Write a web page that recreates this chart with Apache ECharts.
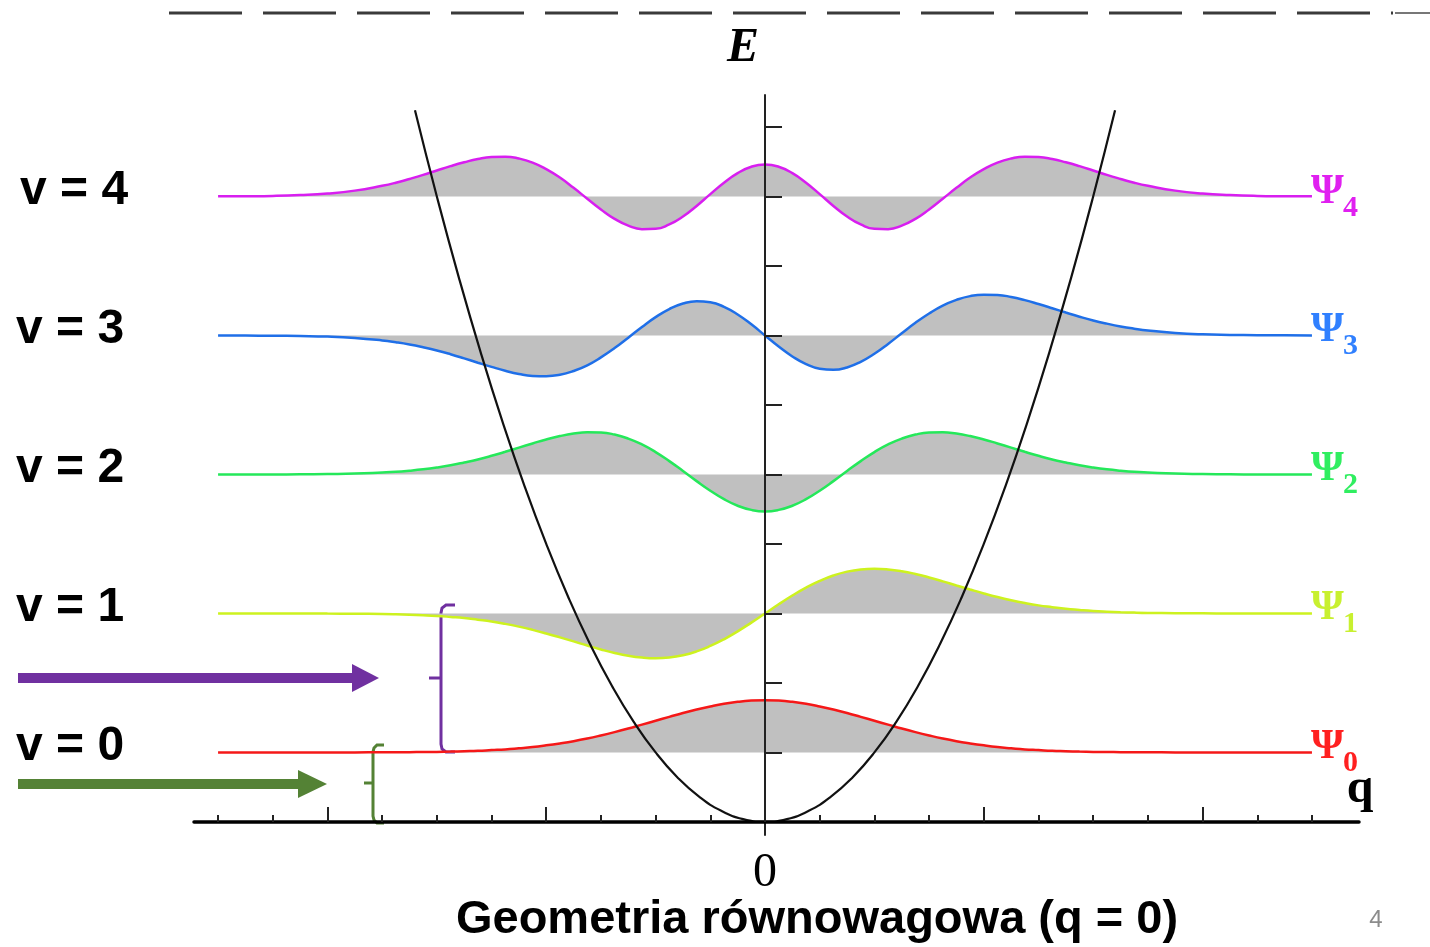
<!DOCTYPE html>
<html>
<head>
<meta charset="utf-8">
<script src="https://cdn.jsdelivr.net/npm/echarts@6/dist/echarts.min.js"></script>
<style>
html,body{margin:0;padding:0;background:#fff;}
#chart{width:1430px;height:947px;}
</style>
</head>
<body>
<div id="chart"></div>
<script>
// ---- data ----
const qGrid = [-5,-4.75,-4.5,-4.25,-4,-3.75,-3.5,-3.375,-3.25,-3.125,-3,-2.875,-2.75,-2.625,-2.5,-2.375,-2.25,-2.125,-2,-1.875,-1.75,-1.625,-1.5,-1.375,-1.25,-1.125,-1,-0.875,-0.75,-0.625,-0.5,-0.375,-0.25,-0.125,0,0.125,0.25,0.375,0.5,0.625,0.75,0.875,1,1.125,1.25,1.375,1.5,1.625,1.75,1.875,2,2.125,2.25,2.375,2.5,2.625,2.75,2.875,3,3.125,3.25,3.375,3.5,3.75,4,4.25,4.5,4.75,5];
const levels = [0.5, 1.5, 2.5, 3.5, 4.5];           // energy of v = 0..4
const levelNames = ['v = 0','v = 1','v = 2','v = 3','v = 4'];
const psi0 = [0,0,0,0,0,0,0.001,0.001,0.002,0.003,0.004,0.006,0.009,0.012,0.017,0.022,0.030,0.039,0.051,0.065,0.081,0.100,0.122,0.146,0.172,0.200,0.228,0.256,0.284,0.309,0.331,0.350,0.364,0.373,0.376,0.373,0.364,0.350,0.331,0.309,0.284,0.256,0.228,0.200,0.172,0.146,0.122,0.100,0.081,0.065,0.051,0.039,0.030,0.022,0.017,0.012,0.009,0.006,0.004,0.003,0.002,0.001,0.001,0,0,0,0,0,0];
const psi1 = [0,0,0,0,-0.001,-0.002,-0.004,-0.006,-0.009,-0.013,-0.018,-0.025,-0.033,-0.045,-0.058,-0.075,-0.095,-0.118,-0.144,-0.172,-0.201,-0.231,-0.259,-0.284,-0.304,-0.317,-0.322,-0.317,-0.301,-0.273,-0.234,-0.186,-0.129,-0.066,0,0.066,0.129,0.186,0.234,0.273,0.301,0.317,0.322,0.317,0.304,0.284,0.259,0.231,0.201,0.172,0.144,0.118,0.095,0.075,0.058,0.045,0.033,0.025,0.018,0.013,0.009,0.006,0.004,0.002,0.001,0,0,0,0];
const psi2 = [0,0,0,0.001,0.003,0.006,0.014,0.019,0.027,0.037,0.050,0.066,0.086,0.108,0.134,0.163,0.193,0.223,0.252,0.276,0.294,0.304,0.302,0.287,0.258,0.216,0.161,0.096,0.025,-0.048,-0.117,-0.178,-0.225,-0.255,-0.266,-0.255,-0.225,-0.178,-0.117,-0.048,0.025,0.096,0.161,0.216,0.258,0.287,0.302,0.304,0.294,0.276,0.252,0.223,0.193,0.163,0.134,0.108,0.086,0.066,0.050,0.037,0.027,0.019,0.014,0.006,0.003,0.001,0,0,0];
const psi3 = [0,-0.001,-0.002,-0.004,-0.008,-0.018,-0.036,-0.049,-0.065,-0.085,-0.108,-0.135,-0.165,-0.196,-0.226,-0.254,-0.277,-0.291,-0.293,-0.283,-0.256,-0.215,-0.158,-0.091,-0.016,0.061,0.132,0.190,0.230,0.247,0.239,0.206,0.151,0.080,0,-0.080,-0.151,-0.206,-0.239,-0.247,-0.230,-0.190,-0.132,-0.061,0.016,0.091,0.158,0.215,0.256,0.283,0.293,0.291,0.277,0.254,0.226,0.196,0.165,0.135,0.108,0.085,0.065,0.049,0.036,0.018,0.008,0.004,0.002,0.001,0];
const psi4 = [0.001,0.002,0.004,0.010,0.021,0.042,0.077,0.099,0.126,0.155,0.187,0.218,0.246,0.270,0.284,0.286,0.273,0.244,0.197,0.136,0.062,-0.016,-0.093,-0.161,-0.210,-0.235,-0.233,-0.201,-0.144,-0.068,0.017,0.099,0.168,0.214,0.230,0.214,0.168,0.099,0.017,-0.068,-0.144,-0.201,-0.233,-0.235,-0.210,-0.161,-0.093,-0.016,0.062,0.136,0.197,0.244,0.273,0.286,0.284,0.270,0.246,0.218,0.187,0.155,0.126,0.099,0.077,0.042,0.021,0.010,0.004,0.002,0.001];
const qPot = [-3.2,-3.0,-2.8,-2.6,-2.4,-2.2,-2.0,-1.8,-1.6,-1.4,-1.2,-1.0,-0.8,-0.6,-0.4,-0.2,0,0.2,0.4,0.6,0.8,1.0,1.2,1.4,1.6,1.8,2.0,2.2,2.4,2.6,2.8,3.0,3.2];
const potential = [5.12,4.5,3.92,3.38,2.88,2.42,2.0,1.62,1.28,0.98,0.72,0.5,0.32,0.18,0.08,0.02,0,0.02,0.08,0.18,0.32,0.5,0.72,0.98,1.28,1.62,2.0,2.42,2.88,3.38,3.92,4.5,5.12];
const xMajorTicks = [-4,-2,0,2,4];
const xMinorTicks = [-5,-4.5,-3.5,-3,-2.5,-1.5,-1,-0.5,0.5,1,1.5,2.5,3,3.5,4.5,5];
const yTicks = [0.5,1,1.5,2,2.5,3,3.5,4,4.5,5];
const xLabels = [0];
const psiLabels = ['0','1','2','3','4'];

const waves = [psi0, psi1, psi2, psi3, psi4];
const lineColors = ['#f51818','#cdf21f','#25e85a','#1f6fe8','#d81ef0'];
const labelColors = ['#ff2020','#c8f030','#30ee60','#3080ff','#e020f0'];

const chart = echarts.init(document.getElementById('chart'));

const series = waves.map((w, v) => ({
  type: 'line',
  data: qGrid.map((q, i) => [q, levels[v] + w[i]]),
  smooth: 0.5,
  symbol: 'none',
  z: 2,
  lineStyle: { color: lineColors[v], width: 2.5 },
  areaStyle: { origin: levels[v], color: '#c0c0c0', opacity: 1 }
}));
series.push({
  type: 'line',
  data: qPot.map((q, i) => [q, potential[i]]),
  smooth: true,
  symbol: 'none',
  z: 4,
  lineStyle: { color: '#111', width: 2.2 }
});

const graphic = [];
// top dashed line
graphic.push({ type:'line', shape:{x1:169,y1:13,x2:1393,y2:13}, style:{stroke:'#3a3a3a', lineWidth:3, lineDash:[73,21]} });
graphic.push({ type:'line', shape:{x1:1395,y1:13,x2:1430,y2:13}, style:{stroke:'#777', lineWidth:2} });
// E
graphic.push({ type:'text', x:743, y:49, style:{ text:'E', font:'italic bold 48px "Liberation Serif"', fill:'#000', align:'center', verticalAlign:'middle' } });
// v labels
const vLabelY = [747, 608, 469, 330, 191];
const vLabelX = [16, 16, 16, 16, 20];
levelNames.forEach((t, v) => {
  graphic.push({ type:'text', x:vLabelX[v], y:vLabelY[v], style:{ text:t, font:'bold 48px "Liberation Sans"', fill:'#000', align:'left', verticalAlign:'middle' } });
});
// Psi labels
const levelPix = [752, 613, 474, 335, 197];
psiLabels.forEach((s, v) => {
  graphic.push({ type:'text', x:1311, y:levelPix[v]-5, style:{ text:'Ψ', font:'bold 42px "Liberation Serif"', fill:labelColors[v], align:'left', verticalAlign:'middle' } });
  graphic.push({ type:'text', x:1343, y:levelPix[v]+11, style:{ text:s, font:'bold 30px "Liberation Serif"', fill:labelColors[v], align:'left', verticalAlign:'middle' } });
});
// q label
graphic.push({ type:'text', x:1360, y:790, style:{ text:'q', font:'bold 48px "Liberation Serif"', fill:'#000', align:'center', verticalAlign:'middle' } });
// bottom title
graphic.push({ type:'text', x:817, y:920, style:{ text:'Geometria równowagowa (q = 0)', font:'bold 47px "Liberation Sans"', fill:'#000', align:'center', verticalAlign:'middle' } });
// slide number
graphic.push({ type:'text', x:1376, y:920, style:{ text:'4', font:'24px "Liberation Sans"', fill:'#8c8c8c', align:'center', verticalAlign:'middle' } });
// arrows
graphic.push({ type:'rect', shape:{x:18,y:673,width:336,height:10}, style:{fill:'#7030a0'} });
graphic.push({ type:'polygon', shape:{points:[[352,664],[379,678],[352,692]]}, style:{fill:'#7030a0'} });
graphic.push({ type:'rect', shape:{x:18,y:779,width:282,height:10}, style:{fill:'#548235'} });
graphic.push({ type:'polygon', shape:{points:[[298,770],[327,784],[298,798]]}, style:{fill:'#548235'} });
// brackets
graphic.push({ type:'polyline', shape:{points:[[455,605],[446,605],[442,608],[441,613],[441,744],[442,749],[446,752],[455,752]]}, style:{stroke:'#7030a0', lineWidth:3, fill:null} });
graphic.push({ type:'line', shape:{x1:429,y1:678,x2:441,y2:678}, style:{stroke:'#7030a0', lineWidth:3} });
graphic.push({ type:'polyline', shape:{points:[[384,745],[377,745],[374,748],[373,752],[373,816],[374,820],[377,823],[384,823]]}, style:{stroke:'#548235', lineWidth:3, fill:null} });
graphic.push({ type:'line', shape:{x1:364,y1:783,x2:373,y2:783}, style:{stroke:'#548235', lineWidth:3} });

const option = {
  animation: false,
  backgroundColor: '#fff',
  grid: { left: 194, right: 71, top: 95, bottom: 112, containLabel: false, outerBoundsMode: 'none' },
  xAxis: [
    {
      type: 'value', min: -5.22, max: 5.43, position: 'bottom', z: 5,
      axisLine: { show: true, onZero: true, lineStyle: { color: '#000', width: 3.5 } },
      axisTick: { show: true, inside: true, length: 15, customValues: xMajorTicks, lineStyle: { color: '#222', width: 2 } },
      axisLabel: { show: true, customValues: xLabels, margin: 14, color: '#000', fontFamily: 'Liberation Serif', fontSize: 48, formatter: (v) => String(v) },
      splitLine: { show: false }
    },
    {
      type: 'value', min: -5.22, max: 5.43, position: 'bottom', offset: -13, z: 5,
      axisLine: { show: false, onZero: false },
      axisTick: { show: true, inside: true, length: 7, customValues: xMinorTicks, lineStyle: { color: '#222', width: 2 } },
      axisLabel: { show: false },
      splitLine: { show: false }
    }
  ],
  yAxis: {
    type: 'value', min: -0.094, max: 5.23, z: 5,
    axisLine: { show: true, onZero: true, lineStyle: { color: '#222', width: 2 } },
    axisTick: { show: true, inside: true, length: 17, customValues: yTicks, lineStyle: { color: '#222', width: 2 } },
    axisLabel: { show: false },
    splitLine: { show: false }
  },
  series: series,
  graphic: graphic
};
chart.setOption(option);
</script>
</body>
</html>
